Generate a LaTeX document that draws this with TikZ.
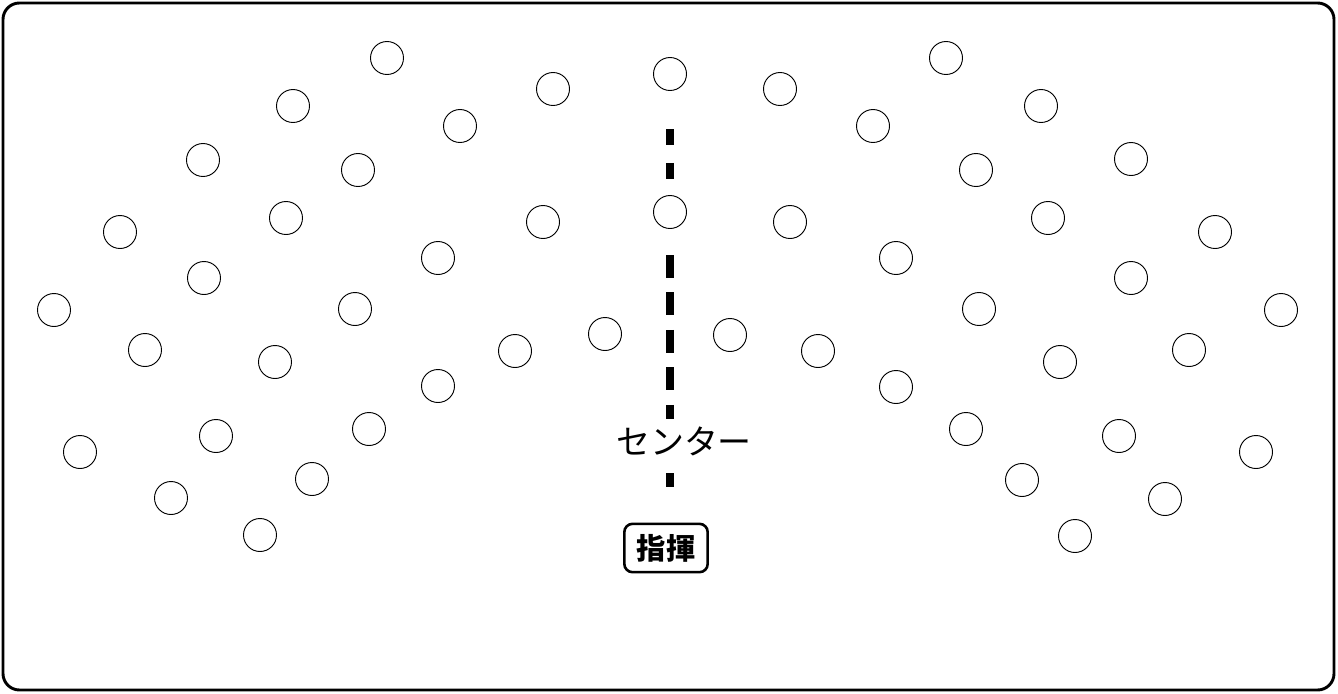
\documentclass[tikz,border=0pt]{standalone}
\usepackage{fontspec}
\newfontfamily\jpfont{Noto Sans CJK JP}
\usepackage{tikz}
\usetikzlibrary{positioning}

\begin{document}
\begin{tikzpicture}[
  x=0.03cm, y=-0.03cm,
  seat/.style={draw, circle, fill=white, line width=0.8pt, minimum size=0.99cm, inner sep=0pt},
  centerline/.style={line width=6pt, dash pattern=on 19.5pt off 12.5pt},
  lbl/.style={font=\jpfont\fontsize{29}{32}\selectfont, fill=white, inner sep=2pt},
  conductor/.style={draw, rounded corners=7pt, line width=2.2pt, fill=white, inner sep=5pt,
    minimum width=2.5cm, minimum height=1.45cm, font=\jpfont\bfseries\fontsize{25}{28}\selectfont},
]
  \useasboundingbox (0,0) rectangle (1338,693);
  \draw[line width=2.5pt, rounded corners=14pt] (3,3) rectangle (1334,690);

  % left wing
  \node[seat] (l1) at (387,58) {};   \node[seat] (l2) at (293,106) {};  \node[seat] (l3) at (460,126) {};
  \node[seat] (l4) at (203,160) {};  \node[seat] (l5) at (358,170) {};  \node[seat] (l6) at (553,89) {};
  \node[seat] (l7) at (120,232) {};  \node[seat] (l8) at (286,218) {};  \node[seat] (l9) at (543,222) {};
  \node[seat] (l10) at (438,258) {}; \node[seat] (l11) at (204,278) {}; \node[seat] (l12) at (54,310) {};
  \node[seat] (l13) at (355,309) {}; \node[seat] (l14) at (605,334) {}; \node[seat] (l15) at (145,350) {};
  \node[seat] (l16) at (275,362) {}; \node[seat] (l17) at (515,351) {}; \node[seat] (l18) at (438,386) {};
  \node[seat] (l19) at (369,429) {}; \node[seat] (l20) at (216,436) {}; \node[seat] (l21) at (80,452) {};
  \node[seat] (l22) at (312,479) {}; \node[seat] (l23) at (171,498) {}; \node[seat] (l24) at (260,535) {};

  % centre
  \node[seat] (c1) at (670,74) {};
  \node[seat] (c2) at (670,212) {};

  % right wing
  \node[seat] (r1) at (946,58) {};   \node[seat] (r2) at (780,89) {};   \node[seat] (r3) at (873,126) {};
  \node[seat] (r4) at (1041,106) {}; \node[seat] (r5) at (976,170) {};  \node[seat] (r6) at (1131,159) {};
  \node[seat] (r7) at (790,222) {};  \node[seat] (r8) at (896,258) {};  \node[seat] (r9) at (1048,218) {};
  \node[seat] (r10) at (1215,232) {};\node[seat] (r11) at (1131,278) {};\node[seat] (r12) at (979,309) {};
  \node[seat] (r13) at (1281,310) {};\node[seat] (r14) at (730,335) {}; \node[seat] (r15) at (818,351) {};
  \node[seat] (r16) at (1060,362) {};\node[seat] (r17) at (1189,350) {};\node[seat] (r18) at (896,387) {};
  \node[seat] (r19) at (966,429) {}; \node[seat] (r20) at (1119,436) {};\node[seat] (r21) at (1256,452) {};
  \node[seat] (r22) at (1022,480) {};\node[seat] (r23) at (1165,499) {};\node[seat] (r24) at (1075,536) {};

  \node[lbl] (center) at (684,441) {センター};
  \node[conductor] (cond) at (666,548) {指揮};

  % centre line
  \coordinate (ctop) at (670,129);
  \coordinate (cmid) at (670,255);
  \coordinate (cbot) at (670,487);
  \draw[centerline, dash pattern=on 13.6pt off 15.3pt] (ctop) -- (c2.north);
  \draw[centerline, shorten >=4pt] (cmid) -- (cmid |- center.north);
  \draw[line width=6pt, shorten <=13pt] (cbot |- center.south) -- (cbot);
\end{tikzpicture}
\end{document}
